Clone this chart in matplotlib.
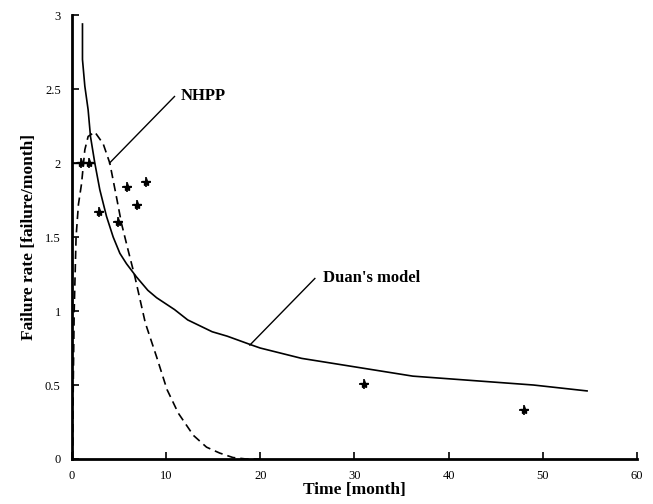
import matplotlib
matplotlib.use("Agg")
import matplotlib.pyplot as plt

# Duan's model (solid)
duan_t = [1.13, 1.13, 1.38, 1.73, 1.98, 2.44, 2.97, 3.68, 4.39, 5.1, 5.8, 6.87, 8.07, 9.0,
          10.9, 12.3, 14.9, 16.5, 19.1, 20.0, 24.4, 30.3, 36.2, 49.0, 54.7]
duan_r = [2.94, 2.70, 2.52, 2.36, 2.18, 2.00, 1.82, 1.64, 1.50, 1.39, 1.32, 1.23, 1.14, 1.09,
          1.01, 0.94, 0.86, 0.83, 0.77, 0.75, 0.68, 0.62, 0.56, 0.50, 0.46]

# NHPP (dashed)
nhpp_t = [0.1, 0.15, 0.25, 0.45, 0.7, 1.03, 1.38, 1.73, 2.44, 3.33, 4.03, 4.74, 5.28, 5.98,
          6.7, 7.8, 9.0, 10.1, 11.3, 12.9, 14.3, 15.7, 17.1, 18.5, 20.0]
nhpp_r = [0.0, 0.5, 1.0, 1.5, 1.72, 1.86, 2.09, 2.18, 2.21, 2.13, 2.00, 1.77, 1.59, 1.41,
          1.23, 0.92, 0.69, 0.47, 0.31, 0.16, 0.08, 0.04, 0.01, 0.0, 0.0]

# observed failure rates
obs_t = [1.0, 1.8, 2.9, 4.9, 5.9, 6.9, 7.9, 31.0, 48.0]
obs_r = [2.0, 2.0, 1.67, 1.60, 1.84, 1.72, 1.87, 0.51, 0.33]

plt.rcParams["font.family"] = "Liberation Serif"

fig = plt.figure(figsize=(6.53, 5.04), dpi=100)
ax = fig.add_axes([0.110, 0.0893, 0.8655, 0.8807])

ax.plot(duan_t, duan_r, color="black", lw=1.2)
ax.plot(nhpp_t, nhpp_r, color="black", lw=1.2, ls=(0, (5, 3)))
ax.plot([0, 2.4], [2.0, 2.0], color="black", lw=1.0)
ax.plot(obs_t, obs_r, ls="none", marker="*", ms=6, color="black")
ax.plot(obs_t, obs_r, ls="none", marker="+", ms=7, mew=1.2, color="black")

# callouts
ax.plot([4.0, 10.9], [2.0, 2.45], color="black", lw=1.0)
ax.text(11.6, 2.45, "NHPP", fontsize=12, fontweight="bold", va="center", ha="left")
ax.plot([18.9, 25.8], [0.77, 1.22], color="black", lw=1.0)
ax.text(26.7, 1.22, "Duan's model", fontsize=12, fontweight="bold", va="center", ha="left")

ax.set_xlim(0, 60)
ax.set_ylim(0, 3)
ax.set_xticks([0, 10, 20, 30, 40, 50, 60])
ax.set_yticks([0, 0.5, 1, 1.5, 2, 2.5, 3])
ax.set_yticklabels(["0", "0.5", "1", "1.5", "2", "2.5", "3"])
ax.tick_params(direction="in", length=5, width=1.2, labelsize=9, pad=8)
ax.spines["top"].set_visible(False)
ax.spines["right"].set_visible(False)
ax.spines["left"].set_linewidth(2)
ax.spines["bottom"].set_linewidth(2)

ax.set_xlabel("Time [month]", fontsize=12.5, fontweight="bold", labelpad=0)
ax.set_ylabel("Failure rate [failure/month]", fontsize=12.5, fontweight="bold", labelpad=6)

fig.savefig("out.png", dpi=100)
